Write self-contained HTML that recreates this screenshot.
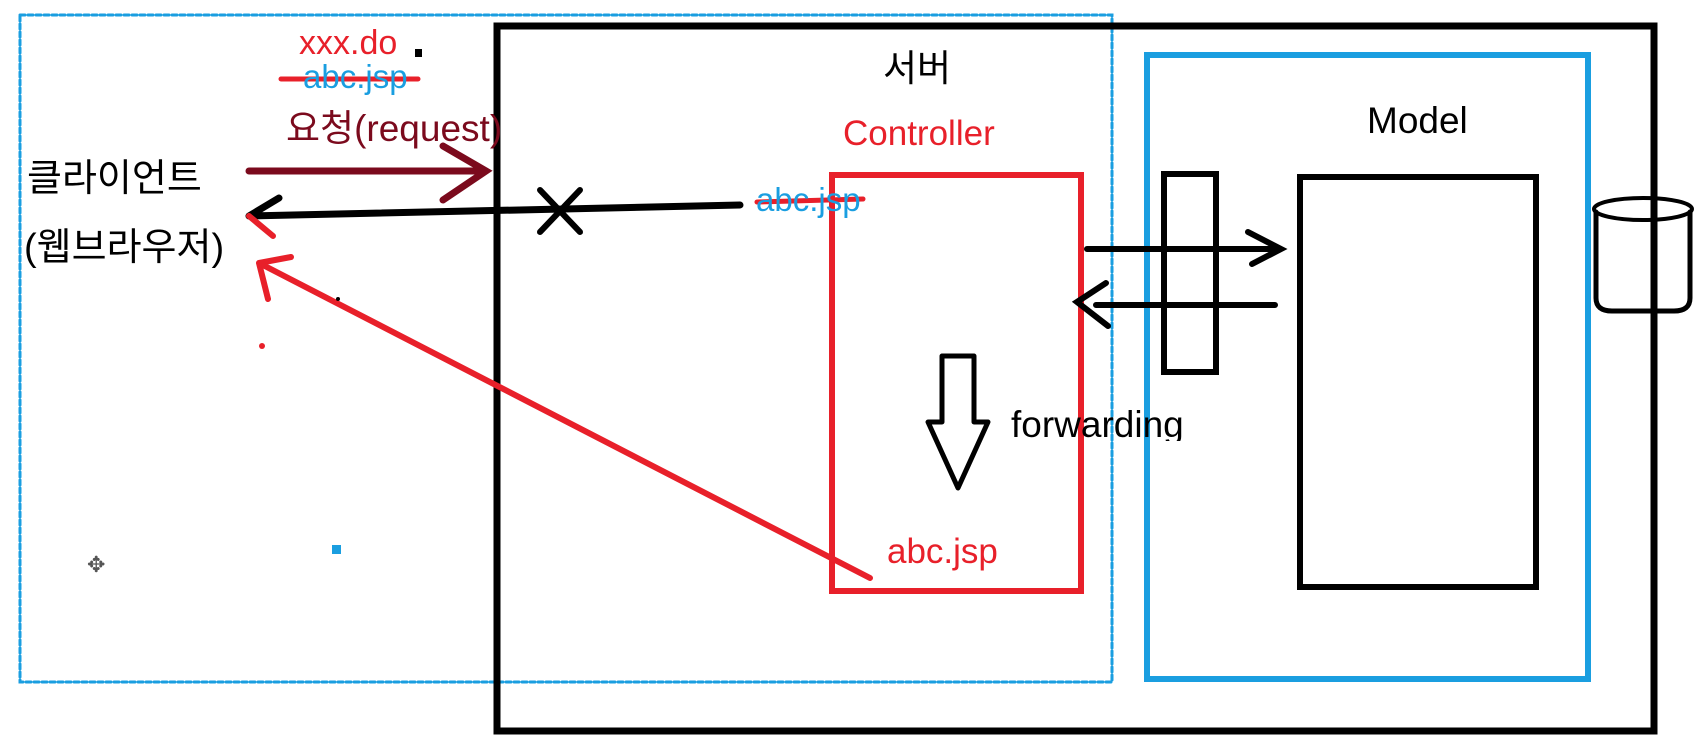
<!DOCTYPE html>
<html><head><meta charset="utf-8"><style>
body{margin:0;width:1695px;height:755px;background:#fff;position:relative;overflow:hidden;font-family:"Liberation Sans","Noto Sans CJK KR",sans-serif}
.t{position:absolute;white-space:nowrap;line-height:1}
</style></head><body>
<svg width="1695" height="755" style="position:absolute;left:0;top:0" fill="none" stroke-linecap="round">
<rect x="20" y="15" width="1092" height="667" stroke="#1a9ee0" stroke-width="3" stroke-dasharray="5,3"/>
<rect x="497" y="26" width="1157" height="705" stroke="#000" stroke-width="7"/>
<rect x="1147" y="55" width="441" height="624" stroke="#1a9ee0" stroke-width="6"/>
<rect x="832" y="175" width="249" height="416" stroke="#e8202a" stroke-width="6"/>
<rect x="1300" y="177" width="236" height="410" stroke="#000" stroke-width="6"/>
<rect x="1164" y="174" width="52" height="198" stroke="#000" stroke-width="6"/>
<path d="M1596 212 L1596 298 Q1596 311 1612 311 L1674 311 Q1690 311 1690 298 L1690 212" stroke="#000" stroke-width="5"/>
<ellipse cx="1643" cy="209" rx="49" ry="11" stroke="#000" stroke-width="4"/>
<path d="M249 171 L486 171 M443 146 L486 171 L443 200" stroke="#7b0a1d" stroke-width="7"/>
<path d="M740 205 L249 216 M279 198 L249 216" stroke="#000" stroke-width="7"/>
<path d="M249 216 L273 236" stroke="#e8202a" stroke-width="6"/>
<path d="M540 190 L580 232 M580 190 L540 232" stroke="#000" stroke-width="6"/>
<path d="M870 578 L259 263 M259 263 L291 257 M259 263 L268 299" stroke="#e8202a" stroke-width="6"/>
<path d="M1087 249 L1281 249 M1248 232 L1281 249 L1252 264" stroke="#000" stroke-width="6"/>
<path d="M1275 305 L1096 305 M1106 283 L1077 302 L1108 326" stroke="#000" stroke-width="6"/>
<path d="M942 356 L974 356 L974 422 L988 422 L958 488 L928 422 L942 422 Z" stroke="#000" stroke-width="5" stroke-linejoin="round"/>
<path d="M281 79 L418 79" stroke="#e8202a" stroke-width="5"/>
<path d="M757 202 L863 199" stroke="#e8202a" stroke-width="5"/>
<rect x="415" y="49" width="7" height="8" fill="#000"/>
<circle cx="262" cy="346" r="3" fill="#e8202a"/>
<circle cx="338" cy="299" r="2" fill="#000"/>
<rect x="332" y="545" width="9" height="9" fill="#1a9ee0"/>
<text x="87" y="572" font-size="22" fill="#555" stroke="none">✥</text>
</svg>
<div class="t" style="left:299px;top:26px;font-size:34px;color:#e8202a">xxx.do</div>
<div class="t" style="left:303px;top:60px;font-size:33px;color:#1a9ee0">abc.jsp</div>
<div class="t" style="left:286px;top:110px;font-size:37px;color:#7b0a1d">요청(request)</div>
<div class="t" style="left:27px;top:160px;font-size:38px;color:#000">클라이언트</div>
<div class="t" style="left:24px;top:229px;font-size:38px;color:#000">(웹브라우저)</div>
<div class="t" style="left:883px;top:50px;font-size:37px;color:#000">서버</div>
<div class="t" style="left:843px;top:116px;font-size:35px;color:#e8202a">Controller</div>
<div class="t" style="left:1367px;top:102px;font-size:37px;color:#000">Model</div>
<div class="t" style="left:756px;top:183px;font-size:33px;color:#1a9ee0">abc.jsp</div>
<div class="t" style="left:1011px;top:406px;font-size:37px;color:#000;height:35px;overflow:hidden">forwarding</div>
<div class="t" style="left:887px;top:534px;font-size:35px;color:#e8202a">abc.jsp</div>
</body></html>
